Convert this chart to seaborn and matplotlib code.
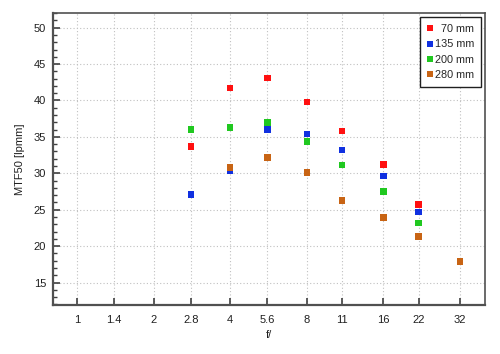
import pandas as pd
import matplotlib
matplotlib.use("Agg")
import matplotlib.pyplot as plt
from matplotlib.ticker import FixedLocator, MultipleLocator, NullLocator
import seaborn as sns

# f-numbers and MTF50 readings for each focal length
f_70 = [2.8, 4, 5.6, 8, 11, 16, 22]
mtf_70 = [33.7, 41.7, 43.1, 39.8, 35.8, 31.2, 25.7]

f_135 = [2.8, 4, 5.6, 8, 11, 16, 22]
mtf_135 = [27.1, 30.4, 36.0, 35.4, 33.2, 29.6, 24.7]

f_200 = [2.8, 4, 5.6, 8, 11, 16, 22]
mtf_200 = [36.05, 36.3, 37.0, 34.4, 31.15, 27.5, 23.15]

f_280 = [4, 5.6, 8, 11, 16, 22, 32]
mtf_280 = [30.8, 32.2, 30.1, 26.25, 23.95, 21.3, 17.9]

series_labels = ["  70 mm", "135 mm", "200 mm", "280 mm"]
series_colors = ["#ff1010", "#1030e0", "#20c820", "#c86414"]
fstop_ticks = [1, 1.4, 2, 2.8, 4, 5.6, 8, 11, 16, 22, 32]
fstop_labels = ["1", "1.4", "2", "2.8", "4", "5.6", "8", "11", "16", "22", "32"]

rows = []
for lab, xs, ys in zip(series_labels,
                       [f_70, f_135, f_200, f_280],
                       [mtf_70, mtf_135, mtf_200, mtf_280]):
    for x, y in zip(xs, ys):
        rows.append({"f": x, "mtf": y, "lens": lab})
df = pd.DataFrame(rows)

sns.set_style("white")
plt.rcParams["font.family"] = ["Liberation Sans", "DejaVu Sans"]

fig = plt.figure(figsize=(5.0, 3.54), dpi=100)
ax = fig.add_axes([0.106, 0.138, 0.864, 0.825])

sns.scatterplot(data=df, x="f", y="mtf", hue="lens", hue_order=series_labels,
                palette=series_colors, marker="s", s=22, linewidth=0,
                ax=ax, zorder=3)

ax.set_xscale("log", base=2)
ax.set_xlim(0.805, 40.1)
ax.set_ylim(11.9, 52.0)
ax.xaxis.set_major_locator(FixedLocator(fstop_ticks))
ax.xaxis.set_minor_locator(NullLocator())
ax.set_xticklabels(fstop_labels)
ax.yaxis.set_major_locator(FixedLocator([15, 20, 25, 30, 35, 40, 45, 50]))
ax.yaxis.set_minor_locator(MultipleLocator(1))

ax.grid(True, which="major", color="#c0c0c0", linestyle=(0, (1, 2)), linewidth=0.8)
ax.tick_params(axis="both", which="major", direction="in", length=5, width=1.2,
               color="#404040", labelsize=8, labelcolor="#202020",
               left=True, bottom=True)
ax.tick_params(axis="y", which="minor", direction="in", length=3, width=1,
               color="#404040", left=True)
ax.tick_params(axis="y", which="major", pad=5)
ax.tick_params(axis="x", which="major", pad=7)
for side in ["left", "bottom"]:
    ax.spines[side].set_color("#505050")
    ax.spines[side].set_linewidth(1.6)
for side in ["top", "right"]:
    ax.spines[side].set_color("#505050")
    ax.spines[side].set_linewidth(1.2)

ax.set_xlabel("f/", fontsize=8, color="#202020", labelpad=4)
ax.set_ylabel("MTF50 [lpmm]", fontsize=8, color="#202020", labelpad=6)

leg = ax.legend(loc="upper right", fontsize=7.8, frameon=True, fancybox=False,
                borderpad=0.6, handletextpad=0.0, handlelength=0.8,
                labelspacing=0.5, markerscale=0.9, borderaxespad=0.4)
leg.get_frame().set_edgecolor("#202020")
leg.get_frame().set_linewidth(1.0)
leg.get_frame().set_alpha(1)

fig.savefig("out.png", dpi=100, facecolor="white")
plt.close()
